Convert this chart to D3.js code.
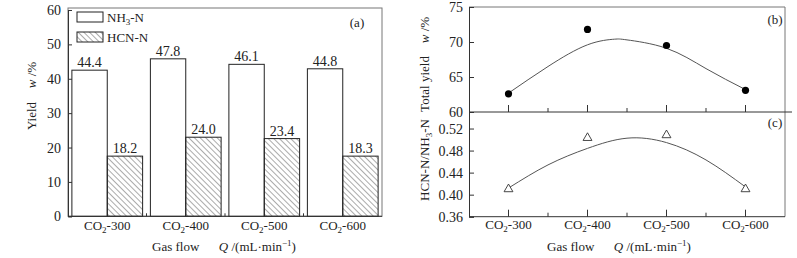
<!DOCTYPE html>
<html>
<head>
<meta charset="utf-8">
<script src="https://cdn.jsdelivr.net/npm/d3@7"></script>
<style>
  body { margin: 0; background: #fff; }
  text { font-family: "Liberation Serif", "Times New Roman", serif; fill: #222; }
</style>
</head>
<body>
<div id="chart"></div>
<script>
// datos
const flows = ['300', '400', '500', '600'];
const nh3Labels = ['44.4', '47.8', '46.1', '44.8'];
const hcnLabels = ['18.2', '24.0', '23.4', '18.3'];
// alturas de las barras tal y como están dibujadas
const nh3Bars = [42.5, 45.8, 44.2, 42.9];
const hcnBars = [17.5, 23.0, 22.6, 17.5];
const totalYield = [62.6, 71.8, 69.5, 63.1];
const ratio = [0.41, 0.503, 0.508, 0.41];
// curvas de ajuste (posición, valor)
const totalFitX = [0, 0.5, 1, 1.34, 1.5, 2, 2.5, 3];
const totalFitY = [62.7, 66.5, 69.6, 70.4, 70.3, 69.1, 66.2, 63.2];
const ratioFitX = [0, 0.5, 1, 1.5, 2, 2.5, 3];
const ratioFitY = [0.412, 0.454, 0.484, 0.5025, 0.4945, 0.463, 0.414];
const leftTicks = [0, 10, 20, 30, 40, 50, 60];
const totalTicks = [60, 65, 70, 75];
const ratioTicks = [0.36, 0.40, 0.44, 0.48, 0.52];

const W = 797, H = 258;
const svg = d3.select('#chart').append('svg')
  .attr('width', W).attr('height', H)
  .style('display', 'block');

const axisColor = '#333';
const boxColor = '#777';

// patrón rayado
svg.append('defs').append('pattern')
  .attr('id', 'hatch')
  .attr('patternUnits', 'userSpaceOnUse')
  .attr('width', 4).attr('height', 4)
  .attr('patternTransform', 'rotate(-45)')
  .append('line')
  .attr('x1', 0).attr('y1', 0).attr('x2', 0).attr('y2', 4)
  .attr('stroke', '#444').attr('stroke-width', 0.9);

function co2Label(sel, flow) {
  sel.append('tspan').text('CO');
  sel.append('tspan').attr('dy', 3).attr('font-size', '9px').text('2');
  sel.append('tspan').attr('dy', -3).text('-' + flow);
}

function xTitle(x, y) {
  const t = svg.append('text')
    .attr('x', x).attr('y', y)
    .attr('text-anchor', 'middle')
    .attr('font-size', '13px');
  t.append('tspan').text('Gas flow\u2003\u2002');
  t.append('tspan').attr('font-style', 'italic').text('Q');
  t.append('tspan').text(' /(mL\u00b7min');
  t.append('tspan').attr('dy', -5).attr('font-size', '9px').text('\u22121');
  t.append('tspan').attr('dy', 5).text(')');
}

function vText(x, y) {
  return svg.append('text')
    .attr('transform', `translate(${x},${y}) rotate(-90)`)
    .attr('text-anchor', 'middle').attr('font-size', '13px');
}

// --- Panel (a): barras ---
const aL = 68, aR = 382, aT = 8, aB = 216.3;
const xa = d3.scaleBand().domain(flows).range([aL, aR]);
const xs = d3.scaleBand().domain(['nh3', 'hcn']).range([0, xa.bandwidth()]).paddingOuter(0.11);
const ya = d3.scaleLinear().domain([0, 60]).range([aB, 10]);

const ga = svg.append('g');
ga.append('rect')
  .attr('x', aL).attr('y', aT).attr('width', aR - aL).attr('height', aB - aT)
  .attr('fill', 'none').attr('stroke', boxColor).attr('stroke-width', 1);

const groups = ga.selectAll('g.grp')
  .data(flows.map((f, i) => ({ f, i })))
  .join('g')
  .attr('transform', d => `translate(${xa(d.f)},0)`);

groups.append('rect')
  .attr('x', xs('nh3')).attr('width', xs.bandwidth())
  .attr('y', d => ya(nh3Bars[d.i])).attr('height', d => aB - ya(nh3Bars[d.i]))
  .attr('fill', '#fff').attr('stroke', '#222').attr('stroke-width', 1);
groups.append('rect')
  .attr('x', xs('hcn')).attr('width', xs.bandwidth())
  .attr('y', d => ya(hcnBars[d.i])).attr('height', d => aB - ya(hcnBars[d.i]))
  .attr('fill', 'url(#hatch)').attr('stroke', '#222').attr('stroke-width', 1);

groups.append('text')
  .attr('x', xs('nh3') + xs.bandwidth() / 2)
  .attr('y', d => ya(nh3Bars[d.i]) - 3)
  .attr('text-anchor', 'middle').attr('font-size', '14px')
  .text(d => nh3Labels[d.i]);
groups.append('text')
  .attr('x', xs('hcn') + xs.bandwidth() / 2)
  .attr('y', d => ya(hcnBars[d.i]) - 3)
  .attr('text-anchor', 'middle').attr('font-size', '14px')
  .text(d => hcnLabels[d.i]);

// eje y izquierdo
const axA = ga.append('g')
  .attr('transform', `translate(${aL},0)`)
  .call(d3.axisLeft(ya).tickValues(leftTicks).tickSize(-4).tickPadding(7));
axA.select('.domain').attr('stroke', axisColor);
axA.selectAll('.tick line').attr('stroke', axisColor);
axA.selectAll('text').attr('font-size', '14px').attr('font-family', 'Liberation Serif').attr('fill', '#222');

// eje x inferior
ga.append('line')
  .attr('x1', aL).attr('x2', aR).attr('y1', aB).attr('y2', aB)
  .attr('stroke', axisColor);
ga.selectAll('line.sep')
  .data(flows.slice(1))
  .join('line')
  .attr('x1', d => xa(d)).attr('x2', d => xa(d))
  .attr('y1', aB).attr('y2', aB - 3)
  .attr('stroke', axisColor);
ga.selectAll('text.cat')
  .data(flows)
  .join('text')
  .attr('x', d => xa(d) + xa.bandwidth() / 2)
  .attr('y', 230)
  .attr('text-anchor', 'middle').attr('font-size', '13px')
  .each(function (d) { co2Label(d3.select(this), d); });
xTitle(224, 251);

// título eje y
vText(36, 116).attr('font-family', 'Liberation Sans').text('Yield');
const wA = vText(36, 75);
wA.append('tspan').attr('font-style', 'italic').text('w');
wA.append('tspan').text(' /%');

// leyenda
ga.append('rect').attr('x', 77).attr('y', 12).attr('width', 26).attr('height', 10)
  .attr('fill', '#fff').attr('stroke', '#222');
const l1 = ga.append('text').attr('x', 107).attr('y', 21.5).attr('font-size', '13px');
l1.append('tspan').text('NH');
l1.append('tspan').attr('dy', 3).attr('font-size', '9px').text('3');
l1.append('tspan').attr('dy', -3).text('-N');
ga.append('rect').attr('x', 77).attr('y', 32).attr('width', 26).attr('height', 10)
  .attr('fill', 'url(#hatch)').attr('stroke', '#222');
ga.append('text').attr('x', 107).attr('y', 42).attr('font-size', '13px').text('HCN-N');
ga.append('text').attr('x', 357).attr('y', 27).attr('text-anchor', 'middle')
  .attr('font-size', '13px').text('(a)');

// --- Paneles (b) y (c) ---
const bL = 469, bR = 785, bT = 7, bM = 112, cB = 216.7;
const xr = d3.scaleLinear().domain([0, 4]).range([bL, bR]);
const yb = d3.scaleLinear().domain([60, 75]).range([bM, bT]);
const yc = d3.scaleLinear().domain([0.36, 0.55]).range([cB, bM]);

const gr = svg.append('g');
gr.append('line').attr('x1', bL).attr('x2', bR).attr('y1', bT).attr('y2', bT).attr('stroke', boxColor);
gr.append('line').attr('x1', bR).attr('x2', bR).attr('y1', bT).attr('y2', cB).attr('stroke', boxColor);
gr.append('line').attr('x1', bL).attr('x2', 792).attr('y1', bM).attr('y2', bM).attr('stroke', axisColor);
gr.append('line').attr('x1', bL).attr('x2', bR).attr('y1', cB).attr('y2', cB).attr('stroke', axisColor);

const axB = gr.append('g').attr('transform', `translate(${bL},0)`)
  .call(d3.axisLeft(yb).tickValues(totalTicks).tickSize(-5).tickPadding(6));
const axC = gr.append('g').attr('transform', `translate(${bL},0)`)
  .call(d3.axisLeft(yc).tickValues(ratioTicks).tickFormat(d3.format('.2f')).tickSize(-5).tickPadding(6));
[axB, axC].forEach(ax => {
  ax.select('.domain').attr('stroke', axisColor);
  ax.selectAll('.tick line').attr('stroke', axisColor);
  ax.selectAll('text').attr('font-size', '14px').attr('font-family', 'Liberation Serif').attr('fill', '#222');
});

// marcas del eje x (mayores en categorías, menores entre ellas)
const xTickPos = d3.range(1, 8).map(k => k / 2);
[bM, cB].forEach(yy => {
  gr.selectAll(null)
    .data(xTickPos)
    .join('line')
    .attr('x1', d => xr(d)).attr('x2', d => xr(d))
    .attr('y1', yy).attr('y2', d => yy - (d % 1 === 0.5 ? 7 : 4))
    .attr('stroke', axisColor);
});

gr.selectAll('text.cat')
  .data(flows)
  .join('text')
  .attr('x', (d, i) => xr(i + 0.5))
  .attr('y', 229)
  .attr('text-anchor', 'middle').attr('font-size', '13px')
  .each(function (d) { co2Label(d3.select(this), d); });
xTitle(619, 251);

// curva (b)
const lineB = d3.line().x(d => xr(d[0] + 0.5)).y(d => yb(d[1])).curve(d3.curveNatural);
gr.append('path')
  .attr('d', lineB(d3.zip(totalFitX, totalFitY)))
  .attr('fill', 'none').attr('stroke', '#555').attr('stroke-width', 1);
gr.selectAll('circle')
  .data(totalYield)
  .join('circle')
  .attr('cx', (d, i) => xr(i + 0.5)).attr('cy', d => yb(d))
  .attr('r', 3.6).attr('fill', '#000');

// curva (c)
const lineC = d3.line().x(d => xr(d[0] + 0.5)).y(d => yc(d[1])).curve(d3.curveNatural);
gr.append('path')
  .attr('d', lineC(d3.zip(ratioFitX, ratioFitY)))
  .attr('fill', 'none').attr('stroke', '#555').attr('stroke-width', 1);
const tri = d3.symbol().type(d3.symbolTriangle).size(34);
gr.selectAll('path.tri')
  .data(ratio)
  .join('path')
  .attr('class', 'tri')
  .attr('d', tri)
  .attr('transform', (d, i) => `translate(${xr(i + 0.5)},${yc(d)})`)
  .attr('fill', '#fff').attr('stroke', '#333').attr('stroke-width', 0.9);

gr.append('text').attr('x', 775).attr('y', 24).attr('text-anchor', 'middle').attr('font-size', '13px').text('(b)');
gr.append('text').attr('x', 775).attr('y', 127).attr('text-anchor', 'middle').attr('font-size', '13px').text('(c)');

// títulos eje y derecho
vText(429, 84).text('Total yield');
const wB = vText(429, 30);
wB.append('tspan').attr('font-style', 'italic').text('w');
wB.append('tspan').text(' /%');

const ytC = vText(429, 160);
ytC.append('tspan').text('HCN-N/NH');
ytC.append('tspan').attr('dy', 3).attr('font-size', '9px').text('3');
ytC.append('tspan').attr('dy', -3).text('-N');
</script>
</body>
</html>
